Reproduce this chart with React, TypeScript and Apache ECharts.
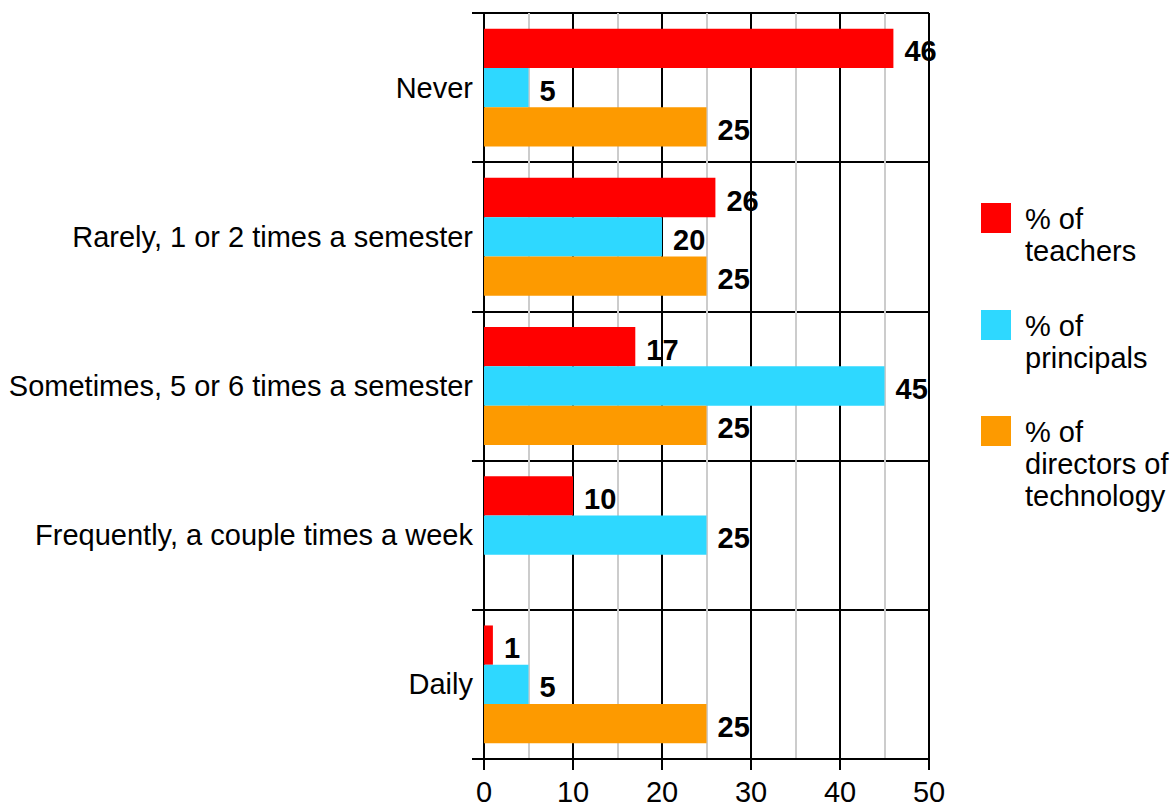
import React, { useEffect, useRef } from "react";
import * as echarts from "echarts";

const categories = [
  "Never",
  "Rarely, 1 or 2 times a semester",
  "Sometimes, 5 or 6 times a semester",
  "Frequently, a couple times a week",
  "Daily",
];
const teachers = [46, 26, 17, 10, 1];
const principals = [5, 20, 45, 25, 5];
const directors: (number | string)[] = [25, 25, 25, "-", 25];
const xTicks = { min: 0, max: 50, interval: 10 };

const seriesNames = ["% of\nteachers", "% of\nprincipals", "% of\ndirectors of\ntechnology"];
const colors = ["#ff0000", "#2ed8ff", "#fd9a00"];

const FONT = "Liberation Sans, Arial, sans-serif";
const LINE_H = 32;

export default function App() {
  const ref = useRef<HTMLDivElement>(null);
  useEffect(() => {
    if (!ref.current) return;
    const chart = echarts.init(ref.current, undefined, { renderer: "svg" });
    const label = {
      show: true,
      position: "right",
      distance: 11,
      offset: [0, 3],
      color: "#000",
      fontWeight: "bold",
      fontSize: 29,
      fontFamily: FONT,
    };
    const mkLegend = (name: string, lines: number, top: number) => {
      const h = LINE_H * lines;
      return {
        data: [{ name, textStyle: { padding: [0, 0, 0, 9] } }],
        orient: "vertical",
        left: 981,
        top,
        padding: 0,
        itemWidth: 30,
        itemHeight: h,
        icon: `path://M0,0H30V30H0ZM0,${h}L0.01,${h}`,
        selectedMode: false,
        textStyle: {
          fontSize: 29,
          fontFamily: FONT,
          color: "#000",
          lineHeight: LINE_H,
        },
      };
    };
    const datasets = [teachers, principals, directors];
    chart.setOption({
      animation: false,
      backgroundColor: "#fff",
      textStyle: { fontFamily: FONT },
      grid: { left: 484, right: 245, top: 13, bottom: 47, containLabel: false },
      legend: [
        mkLegend(seriesNames[0], 2, 203),
        mkLegend(seriesNames[1], 2, 310),
        mkLegend(seriesNames[2], 3, 416),
      ],
      xAxis: {
        type: "value",
        min: xTicks.min,
        max: xTicks.max,
        interval: xTicks.interval,
        axisLine: { show: true, lineStyle: { color: "#000", width: 2 } },
        axisTick: { show: true, length: 11, lineStyle: { color: "#000", width: 2 } },
        axisLabel: { color: "#000", fontSize: 29, fontFamily: FONT, margin: 18 },
        splitLine: { show: true, lineStyle: { color: "#000", width: 2 } },
        minorTick: { show: false, splitNumber: 2 },
        minorSplitLine: { show: true, lineStyle: { color: "#cccccc", width: 2 } },
      },
      yAxis: {
        type: "category",
        inverse: true,
        data: categories,
        axisLine: { show: true, lineStyle: { color: "#000", width: 2 } },
        axisTick: { show: true, length: 12, lineStyle: { color: "#000", width: 2 } },
        axisLabel: { color: "#000", fontSize: 29, fontFamily: FONT, margin: 11 },
        splitLine: { show: true, lineStyle: { color: "#000", width: 2 } },
      },
      series: datasets.map((d, i) => ({
        type: "bar",
        name: seriesNames[i],
        data: d,
        barGap: "0%",
        barCategoryGap: "21%",
        itemStyle: { color: colors[i] },
        label,
      })),
    });
    return () => chart.dispose();
  }, []);
  return (
    <div
      ref={ref}
      style={{ position: "fixed", left: 0, top: 0, width: 1174, height: 806 }}
    />
  );
}
